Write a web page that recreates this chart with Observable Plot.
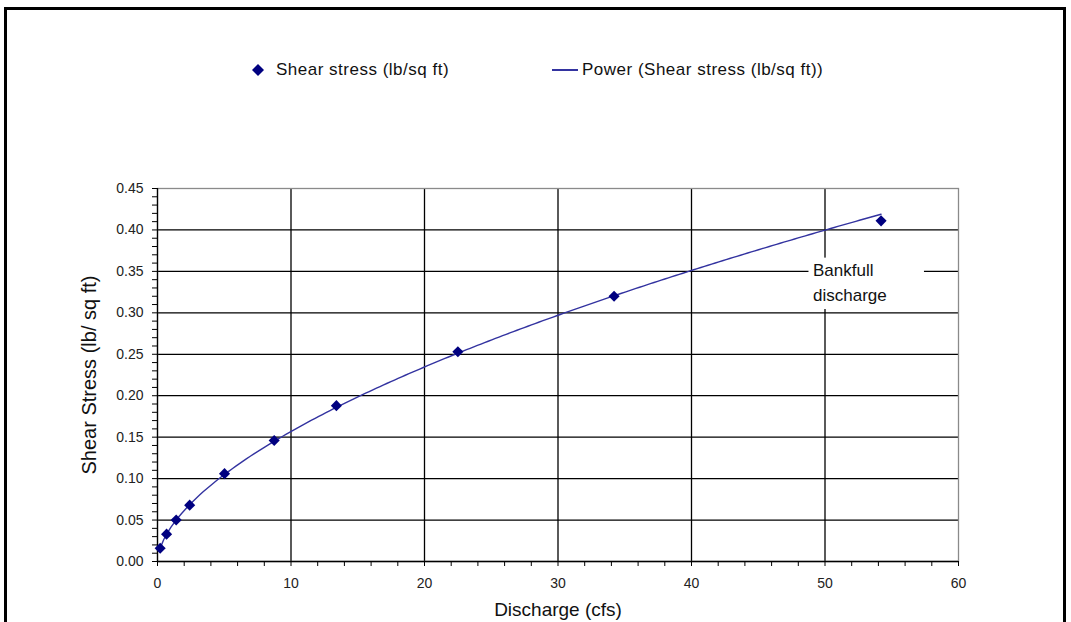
<!DOCTYPE html>
<html><head><meta charset="utf-8">
<script src="https://cdn.jsdelivr.net/npm/d3@7"></script>
<script src="https://cdn.jsdelivr.net/npm/@observablehq/plot@0.6"></script>
<style>
html,body{margin:0;padding:0;background:#fff;overflow:hidden;width:1071px;height:622px;}
#frame{position:absolute;left:4px;top:7px;width:1062px;height:700px;border:3px solid #000;box-sizing:border-box;z-index:5;pointer-events:none;}
#legend{position:absolute;left:0;top:58px;width:1071px;height:24px;font-family:"Liberation Sans",Arial,sans-serif;font-size:17px;color:#111;}
#legend span{position:absolute;top:0;line-height:24px;white-space:nowrap;letter-spacing:0.5px;}
#chart{position:absolute;left:0;top:150px;}
#chart svg{background:transparent !important;}
</style></head><body>
<div id="frame"></div>
<div id="legend">
  <svg style="position:absolute;left:252px;top:6px" width="12" height="12"><path d="M6,0L12,6L6,12L0,6Z" fill="#000080"/></svg>
  <span style="left:276px">Shear stress (lb/sq ft)</span>
  <div style="position:absolute;left:552px;top:11px;width:26px;height:1.5px;background:#3333a0"></div>
  <span style="left:582px">Power (Shear stress (lb/sq ft))</span>
</div>
<div id="chart"></div>
<script>
// Observed data
const discharge = [0.2, 0.68, 1.40, 2.41, 5.02, 8.74, 13.4, 22.5, 34.2, 54.2];
const shearStress = [0.016, 0.033, 0.050, 0.068, 0.106, 0.146, 0.188, 0.253, 0.320, 0.411];
const xTickLabels = [0, 10, 20, 30, 40, 50, 60];
const yTickLabels = [0, 0.05, 0.10, 0.15, 0.20, 0.25, 0.30, 0.35, 0.40, 0.45];
const xMinorStep = 2;
const yMinorStep = 0.01;
const annotationText = "Bankfull\ndischarge";

const points = discharge.map((x, i) => ({x, y: shearStress[i]}));

// Power trendline (least squares on ln x, ln y, like a spreadsheet power fit)
const lx = discharge.map(Math.log), ly = shearStress.map(Math.log);
const mx = d3.mean(lx), my = d3.mean(ly);
const b = d3.sum(lx, (v, i) => (v - mx) * (ly[i] - my)) / d3.sum(lx, v => (v - mx) ** 2);
const a = Math.exp(my - b * mx);
const xmin = d3.min(discharge), xmax = d3.max(discharge);
const trend = d3.range(0, 201).map(i => {
  const x = xmin + (xmax - xmin) * i / 200;
  return {x, y: a * Math.pow(x, b)};
});

const xTicksAll = d3.range(0, 31).map(i => i * xMinorStep);
const yTicksAll = d3.range(0, 46).map(i => +(i * yMinorStep).toFixed(2));
const isMajorX = v => xTickLabels.includes(v);
const isMajorY = v => yTickLabels.some(t => Math.abs(t - v) < 1e-9);

const font = '"Liberation Sans", Arial, sans-serif';
const chart = Plot.plot({
  width: 1071,
  height: 480,
  marginLeft: 157,
  marginRight: 113,
  marginTop: 38,
  marginBottom: 69,
  style: {fontFamily: font, background: "transparent", color: "#222"},
  x: {domain: [0, 60]},
  y: {domain: [0, 0.45]},
  marks: [
    Plot.ruleX(xTickLabels.filter(v => v > 0 && v < 60), {stroke: "#000", strokeWidth: 1.3}),
    Plot.ruleY(yTickLabels.filter(v => v > 0 && v < 0.45), {stroke: "#000", strokeWidth: 1.3}),
    Plot.frame({stroke: "#8a8a8a", strokeWidth: 1.3}),
    Plot.rect([0], {x1: 48.8, x2: 57.45, y1: 0.304, y2: 0.366, fill: "white"}),
    Plot.text([annotationText], {x: 49.1, y: 0.339, textAnchor: "start", lineAnchor: "middle", lineHeight: 1.45, fontSize: 17, fill: "#111"}),
    Plot.axisX(xTicksAll, {tickSize: 5, tickPadding: 12, fontSize: 14, stroke: "#000", tickFormat: d => isMajorX(d) ? String(d) : "", label: null}),
    Plot.axisY(yTicksAll, {tickSize: 5, tickPadding: 9, fontSize: 14, stroke: "#000", tickFormat: d => isMajorY(d) ? d.toFixed(2) : "", label: null}),
    Plot.ruleX([0], {stroke: "#000", strokeWidth: 1.3}),
    Plot.ruleY([0], {stroke: "#000", strokeWidth: 1.3}),
    Plot.line(trend, {x: "x", y: "y", stroke: "#3333a0", strokeWidth: 1.4}),
    Plot.dot(points, {x: "x", y: "y", symbol: "diamond2", r: 5, fill: "#000080", stroke: null}),
    Plot.text(["Shear Stress (lb/ sq ft)"], {frameAnchor: "left", textAnchor: "middle", dx: -68, rotate: -90, fontSize: 20, fill: "#111"}),
    Plot.text(["Discharge (cfs)"], {frameAnchor: "bottom", lineAnchor: "middle", dy: 48, fontSize: 19, fill: "#111"})
  ]
});
document.getElementById("chart").appendChild(chart);
</script>
</body></html>
